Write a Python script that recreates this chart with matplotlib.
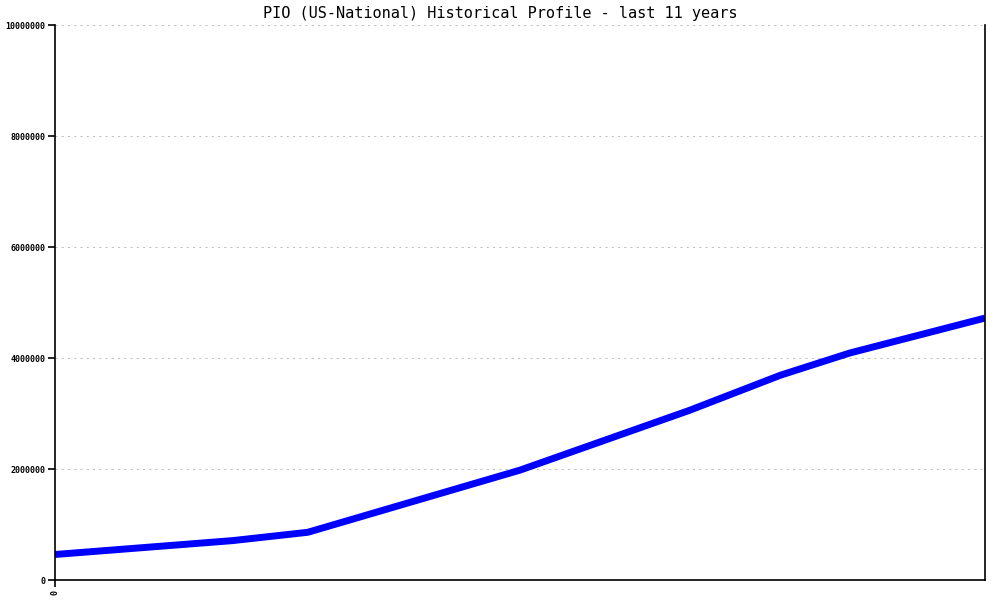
import matplotlib
matplotlib.use("Agg")
import matplotlib.pyplot as plt

# years since start of the profile window
years = [0.0, 2.1, 2.99, 5.5, 7.51, 8.58, 9.4, 11.0]
users = [460000, 710000, 860000, 1980000, 3060000, 3690000, 4090000, 4720000]

y_ticks = [0, 2000000, 4000000, 6000000, 8000000, 10000000]
title = "PIO (US-National) Historical Profile - last 11 years"

mono = "DejaVu Sans Mono"

fig = plt.figure(figsize=(10, 6), dpi=100)
ax = fig.add_axes([0.055, 0.0333, 0.93, 0.925])

ax.plot(years, users, color="#0000ff", linewidth=5, solid_joinstyle="round", solid_capstyle="butt")

ax.set_xlim(0, 11)
ax.set_ylim(0, 10000000)
ax.set_yticks(y_ticks)
ax.set_yticklabels([str(v) for v in y_ticks], fontsize=6, fontweight="bold", family=mono)
ax.set_xticks([0])
ax.set_xticklabels(["0"], rotation=90, fontsize=6, fontweight="bold", family=mono)

ax.grid(axis="y", color="#c0c0c0", linestyle=(0, (2, 4)), linewidth=0.75)
ax.set_axisbelow(True)

ax.spines["top"].set_visible(False)
for side in ["left", "bottom", "right"]:
    ax.spines[side].set_linewidth(1.2)
    ax.spines[side].set_color("black")
ax.tick_params(axis="both", direction="out", length=5, width=1.2, pad=2)

fig.text(0.5, 0.978, title, ha="center", va="center", fontsize=11, family=mono)

fig.savefig("out.png", dpi=100)
